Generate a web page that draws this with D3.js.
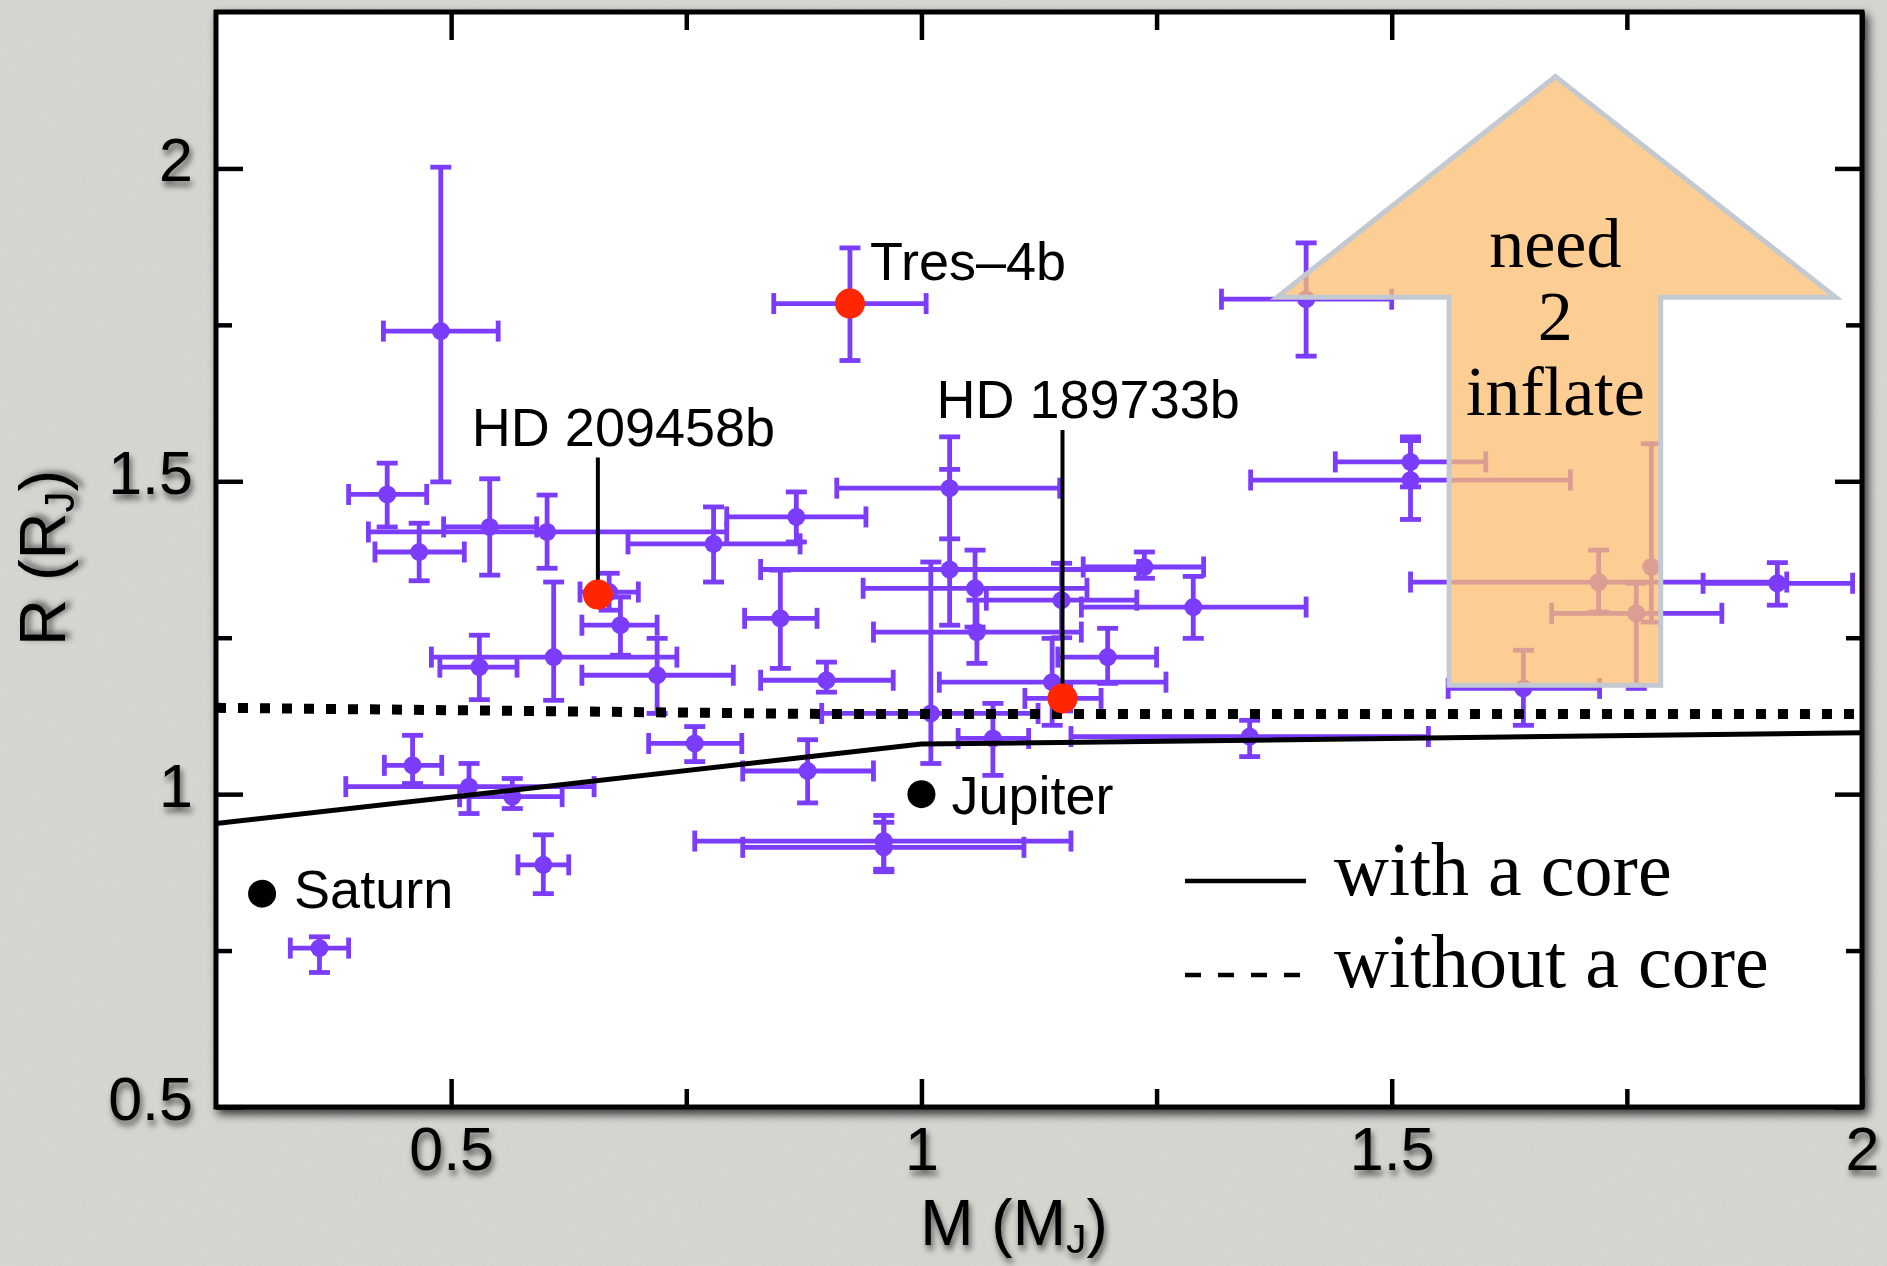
<!DOCTYPE html>
<html>
<head>
<meta charset="utf-8">
<script src="https://cdn.jsdelivr.net/npm/d3@7"></script>
<style>
  html, body { margin: 0; padding: 0; background: #d7d5d0; overflow: hidden; }
  svg { display: block; }
</style>
</head>
<body>
<svg id="chart" width="1887" height="1266"></svg>
<script>
// ---- Transiting planets: mass (M_J) and radius (R_J) with error ranges ----
const massVal   = [0.489,0.432,0.466,0.541,0.602,0.779,0.867,0.668,0.680,0.609,0.530,0.719,0.759,0.850,0.459,0.519,0.565,0.598,0.360,0.924,
                   1.030,1.030,1.237,1.057,1.059,1.149,1.289,1.198,1.139,1.150,1.010,1.076,1.349,0.899,0.879,0.960,0.960,1.409,1.520,1.520,
                   1.720,1.910,1.760,1.776,1.640];
const massLow   = [0.428,0.391,0.419,0.492,0.412,0.688,0.793,0.637,0.639,0.479,0.488,0.639,0.710,0.812,0.429,0.388,0.509,0.571,0.329,0.843,
                   0.910,0.829,1.172,0.938,0.949,1.069,1.170,1.145,1.019,1.110,0.894,1.039,1.159,0.829,0.810,0.759,0.810,1.319,1.440,1.350,
                   1.520,1.831,1.670,1.776,1.560];
const massHigh  = [0.550,0.474,0.514,0.591,0.793,0.871,0.941,0.699,0.719,0.740,0.570,0.800,0.809,0.889,0.490,0.652,0.618,0.625,0.391,1.005,
                   1.147,1.231,1.300,1.176,1.170,1.229,1.409,1.250,1.260,1.191,1.124,1.114,1.539,0.970,0.949,1.159,1.109,1.500,1.600,1.690,
                   1.920,1.990,1.851,1.776,1.721];
const radiusVal = [1.740,1.479,1.387,1.427,1.419,1.400,1.443,1.323,1.270,1.219,1.203,1.190,1.081,1.281,1.046,1.012,0.996,0.887,0.754,1.784,
                   1.489,1.359,1.363,1.329,1.259,1.310,1.299,1.219,1.179,1.153,1.129,1.089,1.092,1.182,1.037,0.925,0.915,1.791,1.531,1.502,
                   1.339,1.337,1.289,1.363,1.169];
const radiusLow = [1.499,1.427,1.341,1.350,1.361,1.339,1.403,1.294,1.222,1.150,1.151,1.129,1.052,1.201,1.017,0.969,0.977,0.841,0.715,1.693,
                   1.408,1.270,1.345,1.267,1.209,1.250,1.249,1.177,1.110,1.133,1.049,1.030,1.060,1.163,0.986,0.876,0.880,1.700,1.491,1.439,
                   1.291,1.302,1.169,1.275,1.110];
const radiusHigh= [2.002,1.529,1.433,1.504,1.478,1.459,1.483,1.353,1.315,1.339,1.254,1.249,1.108,1.358,1.094,1.049,1.025,0.935,0.772,1.873,
                   1.571,1.519,1.387,1.390,1.310,1.369,1.348,1.265,1.249,1.173,1.371,1.145,1.118,1.211,1.087,0.966,0.955,1.881,1.571,1.565,
                   1.390,1.370,1.337,1.560,1.230];

// Highlighted planets
const namedPlanets = ["Tres\u20134b", "HD 209458b", "HD 189733b"];
const namedMass    = [0.924, 0.656, 1.150];
const namedRadius  = [1.784, 1.319, 1.153];

// Solar-system reference planets
const solarNames  = ["Jupiter", "Saturn"];
const solarMass   = [1.0, 0.299];
const solarRadius = [1.0, 0.841];

// Model radius curves
const coreMass       = [0.25, 1.0, 2.0];
const coreRadius     = [0.953, 1.080, 1.098];
const corelessMass   = [0.25, 0.9, 2.0];
const corelessRadius = [1.138, 1.128, 1.128];

// Axis ticks
const xMajorTicks = [0.5, 1, 1.5, 2];
const xMinorTicks = [0.75, 1.25, 1.75];
const yMajorTicks = [0.5, 1, 1.5, 2];
const yMinorTicks = [0.75, 1.25, 1.75];

// "need 2 inflate" arrow outline, in (mass, radius) space
const arrowMass   = [1.674, 1.972, 1.786, 1.786, 1.561, 1.561, 1.378];
const arrowRadius = [2.147, 1.794, 1.794, 1.174, 1.174, 1.794, 1.794];
const arrowWords  = ["need", "2", "inflate"];

// ---------------------------------------------------------------------------
const PURPLE = "#7b3cfb", RED = "#ff2600";
const SANS = "'Liberation Sans', Arial, Helvetica, sans-serif";
const SERIF = "'Liberation Serif', 'Times New Roman', serif";

const svg = d3.select("#chart");
const defs = svg.append("defs");

function dropShadow(id, dx, dy, sd, op) {
  const f = defs.append("filter").attr("id", id)
    .attr("x", "-30%").attr("y", "-30%").attr("width", "160%").attr("height", "160%");
  f.append("feDropShadow").attr("dx", dx).attr("dy", dy).attr("stdDeviation", sd)
    .attr("flood-color", "#000").attr("flood-opacity", op);
}
dropShadow("frameShadow", 4, 5, 5, 0.75);
dropShadow("textShadow", 2, 5, 3, 0.6);

// paper grain
const grain = defs.append("filter").attr("id", "grain")
  .attr("x", 0).attr("y", 0).attr("width", "100%").attr("height", "100%");
grain.append("feTurbulence").attr("type", "fractalNoise").attr("baseFrequency", 0.75)
  .attr("numOctaves", 2).attr("seed", 7);
grain.append("feColorMatrix").attr("type", "matrix")
  .attr("values", "0 0 0 0 0.5  0 0 0 0 0.5  0 0 0 0 0.48  1 0 0 0 -0.45");

svg.append("rect").attr("width", 1887).attr("height", 1266).attr("fill", "#d7d5d0");
svg.append("rect").attr("width", 1887).attr("height", 1266).attr("filter", "url(#grain)").attr("opacity", 0.35);

const x = d3.scaleLinear().domain([0.25, 2]).range([216, 1862]);
const y = d3.scaleLinear().domain([0.5, 2.25]).range([1107, 12]);
const [x0, x1] = x.range(), [y0, y1] = y.range();

// plot frame with shadow
svg.append("rect")
  .attr("x", x0).attr("y", y1).attr("width", x1 - x0).attr("height", y0 - y1)
  .attr("fill", "#fff").attr("stroke", "#000").attr("stroke-width", 5)
  .attr("filter", "url(#frameShadow)");

// axes: inward ticks on all four sides
function drawAxis(axis, tx, ty) {
  const g = svg.append("g").attr("transform", `translate(${tx},${ty})`).call(axis);
  g.select(".domain").remove();
  g.selectAll(".tick line").attr("stroke", "#000").attr("stroke-width", 4.5);
  g.attr("font-family", SANS).attr("font-size", 61);
  g.selectAll(".tick text").attr("fill", "#000").attr("filter", "url(#textShadow)");
  return g;
}
const fmt = d => String(d);
drawAxis(d3.axisBottom(x).tickValues(xMajorTicks).tickSize(-28).tickPadding(20).tickFormat(fmt), 0, y0);
drawAxis(d3.axisBottom(x).tickValues(xMinorTicks).tickSize(-18).tickFormat(""), 0, y0);
drawAxis(d3.axisTop(x).tickValues(xMajorTicks).tickSize(-28).tickFormat(""), 0, y1);
drawAxis(d3.axisTop(x).tickValues(xMinorTicks).tickSize(-18).tickFormat(""), 0, y1);
const yl = drawAxis(d3.axisLeft(y).tickValues(yMajorTicks).tickSize(-27).tickPadding(23).tickFormat(fmt), x0, 0);
yl.selectAll(".tick text").attr("dy", "0.2em");
drawAxis(d3.axisLeft(y).tickValues(yMinorTicks).tickSize(-16).tickFormat(""), x0, 0);
drawAxis(d3.axisRight(y).tickValues(yMajorTicks).tickSize(-27).tickFormat(""), x1, 0);
drawAxis(d3.axisRight(y).tickValues(yMinorTicks).tickSize(-16).tickFormat(""), x1, 0);

// axis titles
const xTitle = svg.append("text").attr("x", 1014).attr("y", 1245)
  .attr("text-anchor", "middle").attr("font-family", SANS).attr("font-size", 64)
  .attr("filter", "url(#textShadow)");
xTitle.append("tspan").text("M (M");
xTitle.append("tspan").attr("font-size", 41).attr("dy", 8).text("J");
xTitle.append("tspan").attr("dy", -8).text(")");

const yTitle = svg.append("text").attr("transform", "translate(65,558) rotate(-90)")
  .attr("text-anchor", "middle").attr("font-family", SANS).attr("font-size", 65)
  .attr("filter", "url(#textShadow)");
yTitle.append("tspan").text("R (R");
yTitle.append("tspan").attr("font-size", 42).attr("dy", 9).text("J");
yTitle.append("tspan").attr("dy", -9).text(")");

// error bars + markers
const plot = svg.append("g");
const CAP = 10.5, EW = 4.8;
const idx = d3.range(massVal.length);
const pts = plot.selectAll("g.pt").data(idx).join("g").attr("class", "pt")
  .attr("stroke", PURPLE).attr("stroke-width", EW).attr("fill", PURPLE);
pts.each(function (i) {
  const g = d3.select(this);
  const cx = x(massVal[i]), cy = y(radiusVal[i]);
  if (massHigh[i] > massLow[i]) {
    const xa = x(massLow[i]), xb = x(massHigh[i]);
    g.append("line").attr("x1", xa).attr("x2", xb).attr("y1", cy).attr("y2", cy);
    g.append("line").attr("x1", xa).attr("x2", xa).attr("y1", cy - CAP).attr("y2", cy + CAP);
    g.append("line").attr("x1", xb).attr("x2", xb).attr("y1", cy - CAP).attr("y2", cy + CAP);
  }
  const ya = y(radiusLow[i]), yb = y(radiusHigh[i]);
  g.append("line").attr("x1", cx).attr("x2", cx).attr("y1", ya).attr("y2", yb);
  g.append("line").attr("x1", cx - CAP).attr("x2", cx + CAP).attr("y1", ya).attr("y2", ya);
  g.append("line").attr("x1", cx - CAP).attr("x2", cx + CAP).attr("y1", yb).attr("y2", yb);
  g.append("circle").attr("cx", cx).attr("cy", cy).attr("r", 9).attr("stroke", "none");
});

// model curves
const line = d3.line().x(d => x(d[0])).y(d => y(d[1]));
plot.append("path").datum(d3.zip(coreMass, coreRadius)).attr("d", line)
  .attr("fill", "none").attr("stroke", "#000").attr("stroke-width", 5);
plot.append("path").datum(d3.zip(corelessMass, corelessRadius)).attr("d", line)
  .attr("fill", "none").attr("stroke", "#000").attr("stroke-width", 10)
  .attr("stroke-dasharray", "10 12");

// solar-system planets
const solarOffset = [[30, 20], [32, 14]];
solarNames.forEach((n, i) => {
  const cx = x(solarMass[i]), cy = y(solarRadius[i]);
  plot.append("circle").attr("cx", cx).attr("cy", cy).attr("r", 14).attr("fill", "#000");
  plot.append("text").attr("x", cx + solarOffset[i][0]).attr("y", cy + solarOffset[i][1])
    .attr("font-family", SANS).attr("font-size", 54).text(n);
});

// highlighted planets: leader lines, red markers, names
const labelRadius = [null, 1.557, 1.601];
namedPlanets.forEach((n, i) => {
  const cx = x(namedMass[i]), cy = y(namedRadius[i]);
  let lx, ly;
  if (labelRadius[i] === null) {
    lx = cx + 20; ly = cy - 24;
  } else {
    ly = y(labelRadius[i]); lx = cx - 126;
    plot.append("line").attr("x1", cx).attr("x2", cx).attr("y1", ly + 12).attr("y2", cy)
      .attr("stroke", "#000").attr("stroke-width", 4);
  }
  plot.append("circle").attr("cx", cx).attr("cy", cy).attr("r", 15).attr("fill", RED);
  plot.append("text").attr("x", lx).attr("y", ly)
    .attr("font-family", SANS).attr("font-size", 54).text(n);
});

// translucent arrow annotation
const arrowPts = d3.zip(arrowMass, arrowRadius).map(d => [x(d[0]), y(d[1])]);
svg.append("polygon").attr("points", arrowPts.map(p => p.join(",")).join(" "))
  .attr("fill", "#fcbd70").attr("fill-opacity", 0.75)
  .attr("stroke", "#c3c9d1").attr("stroke-width", 5).attr("stroke-linejoin", "miter");
const tipX = arrowPts[0][0], tipY = arrowPts[0][1];
const wordOffsets = [191, 264, 339];
arrowWords.forEach((w, i) => {
  svg.append("text").attr("x", tipX).attr("y", tipY + wordOffsets[i])
    .attr("text-anchor", "middle").attr("font-family", SERIF).attr("font-size", 70)
    .attr("fill", "#000").text(w);
});

// legend
const legend = svg.append("g");
legend.append("line").attr("x1", 1185).attr("x2", 1306).attr("y1", 881).attr("y2", 881)
  .attr("stroke", "#000").attr("stroke-width", 4.5);
legend.append("line").attr("x1", 1185).attr("x2", 1300).attr("y1", 975).attr("y2", 975)
  .attr("stroke", "#000").attr("stroke-width", 4.5).attr("stroke-dasharray", "16 17");
legend.append("text").attr("x", 1334).attr("y", 895)
  .attr("font-family", SERIF).attr("font-size", 76).text("with a core");
legend.append("text").attr("x", 1334).attr("y", 987)
  .attr("font-family", SERIF).attr("font-size", 76).text("without a core");
</script>
</body>
</html>
